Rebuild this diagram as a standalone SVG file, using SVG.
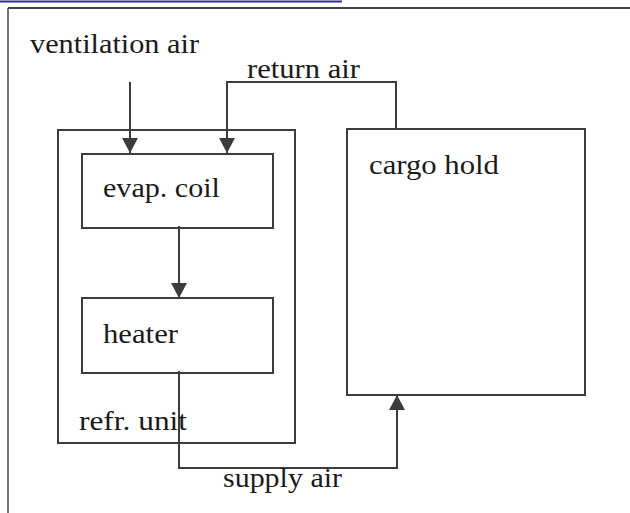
<svg xmlns="http://www.w3.org/2000/svg" width="630" height="513" viewBox="0 0 630 513">
<style>
.box{fill:none;stroke:#3c3c40;stroke-width:2}
.ln{fill:none;stroke:#3c3c40;stroke-width:2}
.lbl{font-family:"Liberation Serif","Times New Roman",serif;font-size:27px;fill:#1a1a1a}
</style>
<defs>
<marker id="ah" markerUnits="userSpaceOnUse" markerWidth="16" markerHeight="16" viewBox="0 0 15 15" refX="14" refY="7.5" orient="auto">
<path d="M0,0 L14,7.5 L0,15 Z" fill="#3c3c40"/>
</marker>
</defs>
<rect width="630" height="513" fill="#ffffff"/>
<g id="frame">
<line x1="0" y1="1.5" x2="342" y2="1.5" stroke="#2e2e9c" stroke-width="2"/>
<line x1="8" y1="8" x2="630" y2="8" stroke="#444448" stroke-width="2"/>
<line x1="8" y1="8" x2="8" y2="513" stroke="#444448" stroke-width="1.5"/>
</g>
<g id="connectors">
<line class="ln" x1="130" y1="82" x2="130" y2="153" marker-end="url(#ah)"/>
<polyline class="ln" points="396,129 396,82 227,82 227,153" marker-end="url(#ah)"/>
<line class="ln" x1="179" y1="226" x2="179" y2="298" marker-end="url(#ah)"/>
<polyline class="ln" points="179,371 179,468 397,468 397,395" marker-end="url(#ah)"/>
</g>
<g id="ventilation-air"><text class="lbl" x="30" y="53" textLength="169" lengthAdjust="spacingAndGlyphs">ventilation air</text></g>
<g id="return-air"><text class="lbl" x="247" y="78" textLength="113" lengthAdjust="spacingAndGlyphs">return air</text></g>
<g id="supply-air"><text class="lbl" x="223" y="487" textLength="119" lengthAdjust="spacingAndGlyphs">supply air</text></g>
<g id="refr-unit">
<rect class="box" x="58" y="130" width="237" height="313"/>
<text class="lbl" x="79" y="430" textLength="108" lengthAdjust="spacingAndGlyphs">refr. unit</text>
</g>
<g id="evap-coil">
<rect class="box" x="82" y="154" width="191" height="74"/>
<text class="lbl" x="103" y="197" textLength="117" lengthAdjust="spacingAndGlyphs">evap. coil</text>
</g>
<g id="heater">
<rect class="box" x="82" y="298" width="191" height="75"/>
<text class="lbl" x="103" y="343" textLength="75" lengthAdjust="spacingAndGlyphs">heater</text>
</g>
<g id="cargo-hold">
<rect class="box" x="347" y="129" width="238" height="266"/>
<text class="lbl" x="369" y="174" textLength="130" lengthAdjust="spacingAndGlyphs">cargo hold</text>
</g>
</svg>
